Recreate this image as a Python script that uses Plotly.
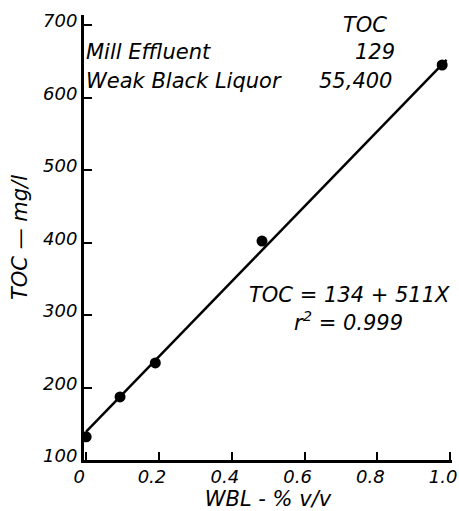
import plotly.graph_objects as go

# Data
wbl_pct = [0, 0.093, 0.19, 0.483, 0.978]
toc_mg_l = [132, 187, 234, 402, 645]
fit_x = [0, 0.99]
fit_y = [139, 652]

x_tickvals = [0, 0.2, 0.4, 0.6, 0.8, 1.0]
x_ticktext = ["0", "0.2", "0.4", "0.6", "0.8", "1.0"]
y_tickvals = [100, 200, 300, 400, 500, 600, 700]
y_ticktext = ["100", "200", "300", "400", "500", "600", "700"]

FONT = "DejaVu Sans"
ital = dict(family=FONT, size=21, color="black", style="italic")
tickfont = dict(family=FONT, size=18, color="black", style="italic")

fig = go.Figure()
fig.add_trace(go.Scatter(x=fit_x, y=fit_y, mode="lines",
                         line=dict(color="black", width=2.5), showlegend=False))
fig.add_trace(go.Scatter(x=wbl_pct, y=toc_mg_l, mode="markers",
                         marker=dict(color="black", size=11), showlegend=False))

fig.update_layout(
    width=459, height=511,
    margin=dict(l=84, r=7, t=15, b=51),
    paper_bgcolor="white", plot_bgcolor="white",
    xaxis=dict(range=[-0.006, 1.005], showgrid=False, zeroline=False,
               automargin=False,
               showline=True, linecolor="black", linewidth=3,
               ticks="inside", ticklen=8, tickwidth=2, tickcolor="black",
               tickvals=x_tickvals, ticktext=x_ticktext, tickfont=tickfont,
               ticklabelshift=-7, ticklabelstandoff=-2,
               ticklabeloverflow="allow",
               title=dict(text="WBL - % v/v", font=ital, standoff=6)),
    yaxis=dict(range=[100, 714], showgrid=False, zeroline=False,
               automargin=False,
               showline=True, linecolor="black", linewidth=3,
               ticks="inside", ticklen=8, tickwidth=2, tickcolor="black",
               tickvals=y_tickvals, ticktext=y_ticktext, tickfont=tickfont,
               ticklabelshift=-4, ticklabelstandoff=0,
               title=dict(text="TOC — mg/l", font=ital, standoff=10)),
)

def note(text, x, y, xanchor="center"):
    fig.add_annotation(text=text, x=x, y=y, xref="paper", yref="paper",
                       xanchor=xanchor, yanchor="middle", showarrow=False,
                       font=ital)

note("TOC", 0.764, 0.978)
note("Mill Effluent", 0.0, 0.917, "left")
note("129", 0.851, 0.917, "right")
note("Weak Black Liquor", 0.0, 0.852, "left")
note("55,400", 0.842, 0.852, "right")
note("TOC = 134 + 511X", 1.0, 0.371, "right")
note("r<sup>2</sup> = 0.999", 0.719, 0.312)

# remove the browser's default page margin so the figure fills the window
fig.write_html("out.html",
               config={"displayModeBar": False},
               post_script="document.body.style.margin='0';"
                           "document.body.style.overflow='hidden';")
